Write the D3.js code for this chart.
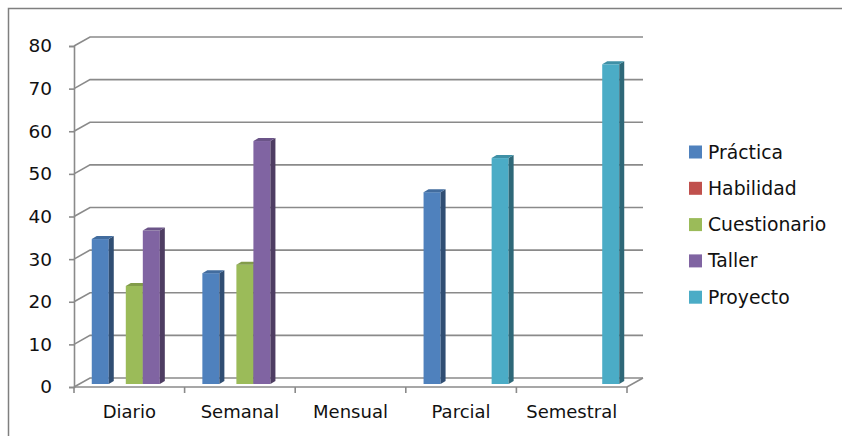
<!DOCTYPE html>
<html>
<head>
<meta charset="utf-8">
<script src="https://cdn.jsdelivr.net/npm/d3@7"></script>
<style>
  body { margin: 0; background: #fff; }
  svg { display: block; font-family: "DejaVu Sans", sans-serif; }
</style>
</head>
<body>
<div id="chart"></div>
<script>
const categories = ["Diario", "Semanal", "Mensual", "Parcial", "Semestral"];
const seriesNames = ["Práctica", "Habilidad", "Cuestionario", "Taller", "Proyecto"];
const practica = [34, 26, null, 45, null];
const habilidad = [null, null, null, null, null];
const cuestionario = [23, 28, null, null, null];
const taller = [36, 57, null, null, null];
const proyecto = [null, null, null, 53, 75];
const seriesColors = ["#4F81BD", "#C0504D", "#9BBB59", "#8064A2", "#4BACC6"];
const yTicks = [0, 10, 20, 30, 40, 50, 60, 70, 80];

const width = 842, height = 436;
const depth = {dx: 16, dy: -9};
const gridColor = "#8a8a8a";

const svg = d3.select("#chart").append("svg")
    .attr("width", width)
    .attr("height", height);

// chart frame
svg.append("path")
    .attr("d", "M8.5," + height + " L8.5,8.5 L" + width + ",8.5")
    .attr("fill", "none")
    .attr("stroke", "#7f7f7f")
    .attr("stroke-width", 1.5);

const x = d3.scaleBand()
    .domain(categories)
    .range([74, 627]);

const y = d3.scaleLinear()
    .domain([0, 80])
    .range([387, 46]);

const xs = d3.scaleBand()
    .domain(seriesNames)
    .range([0, x.bandwidth()])
    .paddingOuter(0.75);

// back wall gridlines
const grid = svg.append("g")
    .attr("fill", "none")
    .attr("stroke", gridColor)
    .attr("stroke-width", 1.6);

grid.selectAll("path.grid")
    .data(yTicks)
    .enter()
    .append("path")
    .attr("class", "grid")
    .attr("d", d => {
        const yy = y(d);
        return "M" + x.range()[0] + "," + yy +
            " L" + (x.range()[0] + depth.dx) + "," + (yy + depth.dy) +
            " L" + (x.range()[1] + depth.dx) + "," + (yy + depth.dy);
    });

// floor
grid.append("path")
    .attr("d", "M" + x.range()[0] + "," + y(0) +
        " L" + x.range()[1] + "," + y(0) +
        " L" + (x.range()[1] + depth.dx) + "," + (y(0) + depth.dy));

// y axis
const yAxis = svg.append("g")
    .attr("transform", "translate(" + x.range()[0] + ",0)")
    .call(d3.axisLeft(y).tickValues(yTicks).tickSize(5).tickPadding(17));
yAxis.select(".domain").attr("stroke", gridColor).attr("stroke-width", 1.6);
yAxis.selectAll(".tick line").attr("stroke", gridColor).attr("stroke-width", 1.6);
yAxis.selectAll(".tick text")
    .attr("fill", "#111")
    .style("font-size", "18.5px")
    .style("font-family", "DejaVu Sans");

// x axis
const xAxis = svg.append("g")
    .attr("transform", "translate(0," + y(0) + ")");
xAxis.selectAll("line")
    .data(categories.concat(["end"]))
    .enter()
    .append("line")
    .attr("x1", (d, i) => i < categories.length ? x(d) : x.range()[1])
    .attr("x2", (d, i) => i < categories.length ? x(d) : x.range()[1])
    .attr("y1", 0)
    .attr("y2", 6)
    .attr("stroke", gridColor)
    .attr("stroke-width", 1.6);
xAxis.selectAll("text")
    .data(categories)
    .enter()
    .append("text")
    .attr("x", d => x(d) + x.bandwidth() / 2)
    .attr("y", 31)
    .attr("text-anchor", "middle")
    .attr("fill", "#111")
    .style("font-size", "18px")
    .text(d => d);

// bars
const allSeries = [practica, habilidad, cuestionario, taller, proyecto];
const barShift = {dx: 5, dy: -3};
const barDepth = {dx: 5, dy: -3};
const bars = [];
categories.forEach((c, ci) => {
    seriesNames.forEach((s, si) => {
        const v = allSeries[si][ci];
        if (v != null) bars.push({cat: c, name: s, value: v, color: seriesColors[si]});
    });
});

const barG = svg.append("g");
const bar = barG.selectAll("g.bar")
    .data(bars)
    .enter()
    .append("g")
    .attr("class", "bar");

function barGeom(d) {
    const x0 = x(d.cat) + xs(d.name) + barShift.dx;
    const w = xs.bandwidth();
    const y0 = y(0) + barShift.dy;
    const y1 = y(d.value) + barShift.dy;
    return {x0, w, y0, y1};
}

bar.append("rect")
    .attr("x", d => barGeom(d).x0)
    .attr("y", d => barGeom(d).y1)
    .attr("width", d => barGeom(d).w)
    .attr("height", d => barGeom(d).y0 - barGeom(d).y1)
    .attr("fill", d => d.color);

bar.append("path")
    .attr("d", d => {
        const g = barGeom(d);
        const xr = g.x0 + g.w;
        return "M" + xr + "," + g.y1 +
            " L" + (xr + barDepth.dx) + "," + (g.y1 + barDepth.dy) +
            " L" + (xr + barDepth.dx) + "," + (g.y0 + barDepth.dy) +
            " L" + xr + "," + g.y0 + "Z";
    })
    .attr("fill", d => d3.color(d.color).darker(1.4));

bar.append("path")
    .attr("d", d => {
        const g = barGeom(d);
        return "M" + g.x0 + "," + g.y1 +
            " L" + (g.x0 + barDepth.dx) + "," + (g.y1 + barDepth.dy) +
            " L" + (g.x0 + g.w + barDepth.dx) + "," + (g.y1 + barDepth.dy) +
            " L" + (g.x0 + g.w) + "," + g.y1 + "Z";
    })
    .attr("fill", d => d3.color(d.color).darker(0.5));

// legend
const legend = svg.append("g")
    .attr("transform", "translate(689,152)");
const item = legend.selectAll("g")
    .data(seriesNames)
    .enter()
    .append("g")
    .attr("transform", (d, i) => "translate(0," + (i * 36.3) + ")");
item.append("rect")
    .attr("x", 0)
    .attr("y", -6.5)
    .attr("width", 13)
    .attr("height", 13)
    .attr("fill", (d, i) => seriesColors[i]);
item.append("text")
    .attr("x", 19)
    .attr("y", 0)
    .attr("dy", "0.35em")
    .attr("fill", "#111")
    .style("font-size", "18.8px")
    .text(d => d);
</script>
</body>
</html>
